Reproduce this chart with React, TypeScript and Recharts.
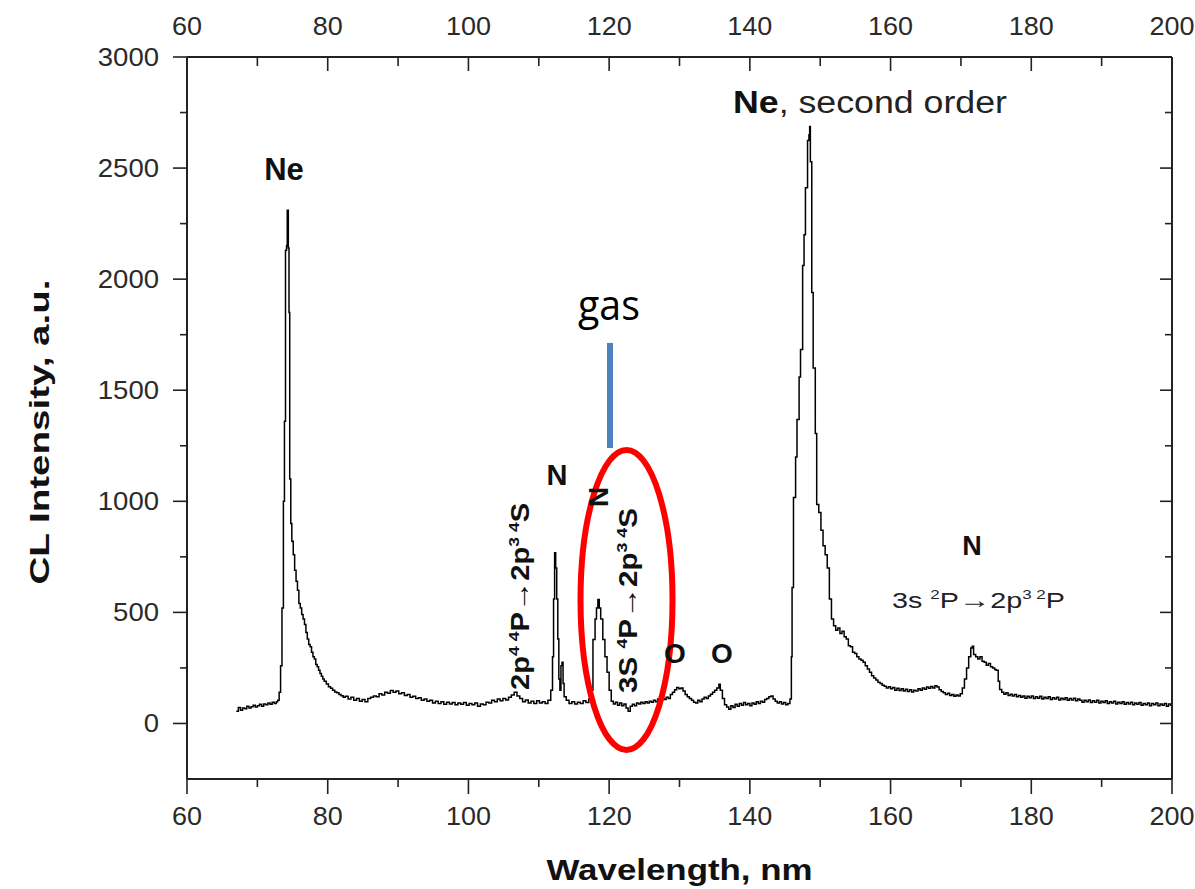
import React from 'react';
import { LineChart, Line, XAxis, YAxis, ReferenceDot, ReferenceLine } from 'recharts';

// [wavelength nm, CL intensity a.u.]
const baselineStart: [number, number][] = [
  [67.0, 55], [67.3, 72], [67.6, 60], [67.9, 70], [68.2, 66], [68.5, 78], [68.8, 70], [69.1, 75],
  [69.4, 82], [69.7, 74], [70.0, 80], [70.3, 86], [70.6, 78], [70.9, 88], [71.2, 84], [71.5, 92],
  [71.8, 86], [72.1, 95], [72.4, 90], [72.7, 98],
];

const neonPeak: [number, number][] = [
  [72.9, 105], [73.1, 140], [73.3, 260], [73.5, 520], [73.7, 1000], [73.85, 1360], [74.0, 2130],
  [74.15, 2150], [74.25, 2310], [74.4, 2140], [74.5, 1850], [74.6, 1100], [74.75, 900], [74.9, 820],
  [75.1, 760], [75.3, 690], [75.5, 640], [75.7, 600], [75.9, 540], [76.1, 520], [76.3, 490],
  [76.5, 470], [76.7, 445], [76.9, 410], [77.1, 380], [77.3, 355], [77.5, 345], [77.7, 320],
  [77.9, 300], [78.1, 290], [78.3, 265], [78.5, 255], [78.7, 240], [78.9, 225], [79.1, 212],
  [79.3, 200], [79.5, 190], [79.8, 178], [80.1, 165], [80.4, 158], [80.7, 150], [81.0, 142],
  [81.3, 138], [81.6, 130], [81.9, 125], [82.2, 118],
];

const midBaseline: [number, number][] = [
  [82.5, 122], [82.9, 110], [83.3, 118], [83.7, 104], [84.1, 112], [84.5, 100], [84.9, 108],
  [85.3, 98], [85.7, 112], [86.1, 118], [86.5, 124], [86.9, 120], [87.3, 134], [87.7, 128],
  [88.1, 140], [88.5, 136], [88.9, 148], [89.3, 140], [89.7, 146], [90.1, 134], [90.5, 138],
  [90.9, 126], [91.3, 130], [91.7, 118], [92.1, 122], [92.5, 112], [92.9, 116], [93.3, 104],
  [93.7, 110], [94.1, 100], [94.5, 104], [94.9, 92], [95.3, 100], [95.7, 90], [96.1, 98],
  [96.5, 86], [96.9, 96], [97.3, 88], [97.7, 94], [98.1, 84], [98.5, 92], [98.9, 86], [99.3, 94],
  [99.7, 82], [100.1, 90], [100.5, 84], [100.9, 92], [101.3, 78], [101.7, 88], [102.1, 84],
  [102.5, 96], [102.9, 92], [103.3, 104], [103.7, 98], [104.1, 110], [104.5, 102], [104.9, 112],
  [105.3, 106], [105.7, 118], [106.1, 128], [106.5, 140], [106.9, 124], [107.3, 112], [107.7, 98],
  [108.1, 106], [108.5, 92], [108.9, 100], [109.3, 90], [109.7, 102], [110.1, 92], [110.5, 98],
  [110.9, 90], [111.3, 104],
];

const nitrogenPeaks: [number, number][] = [
  [111.7, 150], [111.95, 300], [112.1, 560], [112.25, 769], [112.4, 700], [112.55, 560],
  [112.7, 380], [112.85, 200], [113.0, 150], [113.15, 260], [113.3, 275], [113.45, 180],
  [113.6, 120], [113.9, 104], [114.3, 90], [114.7, 98], [115.1, 88], [115.5, 96], [115.9, 90],
  [116.3, 102], [116.7, 94], [117.1, 110], [117.4, 150], [117.7, 378], [118.0, 470], [118.2, 520],
  [118.4, 558], [118.6, 520], [118.8, 470], [119.1, 378], [119.4, 300], [119.7, 230], [120.0, 150],
  [120.3, 100], [120.6, 88], [120.9, 96], [121.2, 82], [121.5, 92], [121.8, 80], [122.1, 88],
  [122.4, 70], [122.7, 55], [123.0, 78],
];

const oxygenRegion: [number, number][] = [
  [123.3, 86], [123.6, 80], [123.9, 92], [124.2, 88], [124.5, 96], [124.8, 90], [125.1, 98],
  [125.4, 92], [125.7, 100], [126.0, 96], [126.3, 104], [126.6, 98], [126.9, 110], [127.2, 104],
  [127.5, 112], [127.8, 108], [128.1, 118], [128.4, 112], [128.7, 130], [129.0, 140], [129.3, 152],
  [129.6, 162], [129.9, 156], [130.2, 160], [130.5, 146], [130.8, 130], [131.1, 120], [131.4, 112],
  [131.7, 104], [132.0, 96], [132.3, 92], [132.6, 104], [132.9, 98], [133.2, 110], [133.5, 118],
  [133.8, 112], [134.1, 124], [134.4, 132], [134.7, 140], [135.0, 150], [135.3, 160], [135.6, 176],
  [135.8, 150], [136.1, 112], [136.4, 84], [136.7, 74], [137.0, 64], [137.3, 80], [137.6, 72],
  [137.9, 86], [138.2, 78], [138.5, 90], [138.8, 82], [139.1, 94], [139.4, 84], [139.7, 90],
  [140.0, 80], [140.3, 92], [140.6, 86], [140.9, 98], [141.2, 90], [141.5, 100], [141.8, 96],
  [142.1, 108], [142.4, 112], [142.7, 120], [143.0, 124], [143.3, 110], [143.6, 100], [143.9, 92],
  [144.2, 98], [144.5, 88], [144.8, 94], [145.1, 84], [145.4, 90], [145.7, 110],
];

const neonSecondOrder: [number, number][] = [
  [145.9, 300], [146.0, 612], [146.2, 1017], [146.5, 1200], [146.7, 1368], [147.0, 1560],
  [147.2, 1683], [147.5, 2061], [147.7, 2200], [147.9, 2412], [148.2, 2624], [148.4, 2650],
  [148.5, 2687], [148.6, 2529], [148.8, 1940], [149.0, 1600], [149.3, 1305], [149.5, 986],
  [149.8, 950], [150.1, 870], [150.4, 800], [150.7, 760], [151.0, 700], [151.3, 560], [151.6, 470],
  [151.9, 440], [152.2, 420], [152.5, 430], [152.8, 405], [153.1, 415], [153.4, 390], [153.7, 380],
  [154.0, 350], [154.3, 345], [154.6, 320], [154.9, 315], [155.2, 300], [155.5, 290], [155.8, 285],
  [156.1, 275], [156.4, 260], [156.7, 245], [157.0, 230], [157.3, 215], [157.6, 205], [157.9, 196],
  [158.2, 185], [158.5, 180], [158.8, 172], [159.1, 168], [159.4, 160], [159.7, 165],
];

const nitrogenTail: [number, number][] = [
  [160.0, 156], [160.3, 162], [160.6, 150], [160.9, 158], [161.2, 148], [161.5, 156], [161.8, 146],
  [162.1, 154], [162.4, 144], [162.7, 152], [163.0, 142], [163.3, 150], [163.6, 146], [163.9, 156],
  [164.2, 150], [164.5, 160], [164.8, 154], [165.1, 164], [165.4, 158], [165.7, 166], [166.0, 160],
  [166.3, 170], [166.6, 164], [166.9, 152], [167.2, 144], [167.5, 138], [167.8, 130], [168.1, 136],
  [168.4, 126], [168.7, 130], [169.0, 122], [169.3, 128], [169.6, 124], [169.9, 134], [170.2, 160],
  [170.5, 200], [170.8, 250], [171.1, 300], [171.4, 340], [171.6, 347], [171.8, 310], [172.1, 300],
  [172.4, 290], [172.7, 300], [173.0, 280], [173.3, 275], [173.6, 262], [173.9, 270], [174.2, 255],
  [174.5, 250], [174.8, 243], [175.0, 240], [175.3, 190], [175.5, 153], [175.8, 140], [176.1, 132],
  [176.4, 138], [176.7, 126], [177.0, 132], [177.3, 124], [177.6, 130], [177.9, 120], [178.2, 126],
  [178.5, 118], [178.8, 124], [179.1, 114], [179.4, 122], [179.7, 116], [180.0, 124], [180.3, 112],
  [180.6, 120], [180.9, 114], [181.2, 122], [181.5, 110], [181.8, 118], [182.1, 112], [182.4, 120],
  [182.7, 108], [183.0, 116], [183.3, 110], [183.6, 118], [183.9, 106], [184.2, 114], [184.5, 108],
  [184.8, 116], [185.1, 104], [185.4, 112], [185.7, 106], [186.0, 114], [186.3, 102], [186.6, 110],
  [186.9, 104], [187.2, 96], [187.5, 104], [187.8, 98], [188.1, 106], [188.4, 94], [188.7, 102],
  [189.0, 96], [189.3, 104], [189.6, 92], [189.9, 100], [190.2, 94], [190.5, 102], [190.8, 90],
  [191.1, 98], [191.4, 92], [191.7, 100], [192.0, 88], [192.3, 96], [192.6, 90], [192.9, 98],
  [193.2, 86], [193.5, 94], [193.8, 88], [194.1, 96], [194.4, 84], [194.7, 92], [195.0, 86],
  [195.3, 94], [195.6, 82], [195.9, 90], [196.2, 84], [196.5, 92], [196.8, 80], [197.1, 90],
  [197.4, 84], [197.7, 92], [198.0, 80], [198.3, 88], [198.6, 82], [198.9, 90], [199.2, 78],
  [199.5, 88], [199.8, 82], [200.0, 86],
];

const xTicks = [60, 70, 80, 90, 100, 110, 120, 130, 140, 150, 160, 170, 180, 190, 200];
const yTicks = [0, 250, 500, 750, 1000, 1250, 1500, 1750, 2000, 2250, 2500, 2750, 3000];

const spectrum = [
  ...baselineStart, ...neonPeak, ...midBaseline, ...nitrogenPeaks,
  ...oxygenRegion, ...neonSecondOrder, ...nitrogenTail,
];
const data = spectrum.map(([wl, cl]) => ({ wl, cl }));

const FONT = 'Liberation Sans, Arial, Helvetica, sans-serif';
const AXIS = '#222';
const TXT = '#2a2a2a';

const BottomTick = (p: any) => {
  const { x, y, payload } = p;
  const v = payload.value;
  const major = v % 20 === 0;
  return (
    <g>
      <line x1={x} y1={y} x2={x} y2={y + (major ? 15 : 8)} stroke={AXIS} strokeWidth={1.6} />
      {major && (
        <text x={x} y={y + 46} textAnchor="middle" fontSize={25} fontFamily={FONT} fill={TXT}
          textLength={String(v).length * 15} lengthAdjust="spacingAndGlyphs">{v}</text>
      )}
    </g>
  );
};

const TopTick = (p: any) => {
  const { x, y, payload } = p;
  const v = payload.value;
  const major = v % 20 === 0;
  return (
    <g>
      <line x1={x} y1={y} x2={x} y2={y + (major ? 14 : 9)} stroke={AXIS} strokeWidth={1.6} />
      {major && (
        <text x={x} y={y - 22} textAnchor="middle" fontSize={25} fontFamily={FONT} fill={TXT}
          textLength={String(v).length * 15} lengthAdjust="spacingAndGlyphs">{v}</text>
      )}
    </g>
  );
};

const LeftTick = (p: any) => {
  const { x, y, payload } = p;
  const v = payload.value;
  const major = v % 500 === 0;
  return (
    <g>
      <line x1={x - (major ? 14 : 7)} y1={y} x2={x} y2={y} stroke={AXIS} strokeWidth={1.6} />
      {major && (
        <text x={x - 28} y={y + 9} textAnchor="end" fontSize={25} fontFamily={FONT} fill={TXT}
          textLength={String(v).length * 15.3} lengthAdjust="spacingAndGlyphs">{v}</text>
      )}
    </g>
  );
};

const RightTick = (p: any) => {
  const { x, y, payload } = p;
  const v = payload.value;
  const major = v % 500 === 0;
  return <line x1={x - (major ? 12 : 7)} y1={y} x2={x} y2={y} stroke={AXIS} strokeWidth={1.6} />;
};

const XTitle = (props: any) => {
  const vb = props.viewBox || { x: 187, y: 779, width: 985, height: 110 };
  return (
    <text x={vb.x + vb.width / 2} y={vb.y + 101} textAnchor="middle" fontSize={29} fontWeight="bold"
      fontFamily={FONT} fill="#111" textLength={266} lengthAdjust="spacingAndGlyphs">
      Wavelength, nm
    </text>
  );
};

const YTitle = () => {
  const cx = 49;
  const cy = 432;
  return (
    <text transform={`translate(${cx},${cy}) rotate(-90)`} x={0} y={0} textAnchor="middle" fontSize={28}
      fontWeight="bold" fontFamily={FONT} fill="#111" textLength={305} lengthAdjust="spacingAndGlyphs">
      CL Intensity, a.u.
    </text>
  );
};

const label = (content: (cx: number, cy: number) => React.ReactElement) => (p: any) =>
  content(p.cx, p.cy);

export default function App() {
  return (
    <div style={{ position: 'absolute', left: 0, top: 0, background: '#fff' }}>
      <LineChart width={1195} height={889} data={data} margin={{ top: 0, right: 0, bottom: 0, left: 0 }}>
        <XAxis xAxisId="bottom" dataKey="wl" type="number" domain={[60, 200]} ticks={xTicks} interval={0}
          orientation="bottom" height={110} tickSize={0} tickMargin={0} tickLine={false}
          axisLine={{ stroke: AXIS, strokeWidth: 2 }} tick={<BottomTick />} allowDataOverflow
          label={<XTitle />} />
        <XAxis xAxisId="top" dataKey="wl" type="number" domain={[60, 200]} ticks={xTicks} interval={0}
          orientation="top" height={57} tickSize={0} tickMargin={0} tickLine={false}
          axisLine={{ stroke: AXIS, strokeWidth: 2 }} tick={<TopTick />} allowDataOverflow />
        <YAxis yAxisId="left" type="number" domain={[-250, 3000]} ticks={yTicks} interval={0}
          orientation="left" width={187} tickSize={0} tickMargin={0} tickLine={false}
          axisLine={{ stroke: AXIS, strokeWidth: 2 }} tick={<LeftTick />} allowDataOverflow
          label={<YTitle />} />
        <YAxis yAxisId="right" type="number" domain={[-250, 3000]} ticks={yTicks} interval={0}
          orientation="right" width={23} tickSize={0} tickMargin={0} tickLine={false}
          axisLine={{ stroke: AXIS, strokeWidth: 2 }} tick={<RightTick />} allowDataOverflow />
        <Line xAxisId="top" yAxisId="right" dataKey="cl" stroke="none" dot={false}
          isAnimationActive={false} activeDot={false} />
        <Line xAxisId="bottom" yAxisId="left" dataKey="cl" type="stepAfter" stroke="#000" strokeWidth={1.5}
          dot={false} activeDot={false} isAnimationActive={false} />

        <ReferenceLine xAxisId="bottom" yAxisId="left" segment={[{ x: 120.12, y: 1713 }, { x: 120.12, y: 1240 }]}
          stroke="#4F81BD" strokeWidth={6} ifOverflow="visible" />

        <ReferenceDot xAxisId="bottom" yAxisId="left" x={122.47} y={556} r={0} ifOverflow="visible"
          shape={label((cx, cy) => (
            <ellipse cx={cx} cy={cy} rx={46} ry={150} fill="none" stroke="#FF0000" strokeWidth={6} />
          ))} />

        <ReferenceDot xAxisId="bottom" yAxisId="left" x={73.79} y={2447} r={0} ifOverflow="visible"
          shape={label((cx, cy) => (
            <text x={cx} y={cy} textAnchor="middle" fontSize={31} fontWeight="bold" fontFamily={FONT} fill="#111">Ne</text>
          ))} />

        <ReferenceDot xAxisId="bottom" yAxisId="left" x={137.6} y={2748} r={0} ifOverflow="visible"
          shape={label((cx, cy) => (
            <text x={cx} y={cy} fontSize={31} fontFamily={FONT} fill="#222" textLength={274} lengthAdjust="spacingAndGlyphs">
              <tspan fontWeight="bold" fill="#111">Ne</tspan>, second order
            </text>
          ))} />

        <ReferenceDot xAxisId="bottom" yAxisId="left" x={119.98} y={1816} r={0} ifOverflow="visible"
          shape={label((cx, cy) => (
            <text x={cx} y={cy} textAnchor="middle" fontSize={42} fontFamily="Open Sans, Lato, sans-serif" fill="#000"
              textLength={62} lengthAdjust="spacingAndGlyphs">gas</text>
          ))} />

        <ReferenceDot xAxisId="bottom" yAxisId="left" x={112.59} y={1074} r={0} ifOverflow="visible"
          shape={label((cx, cy) => (
            <text x={cx} y={cy} textAnchor="middle" fontSize={29} fontWeight="bold" fontFamily={FONT} fill="#111">N</text>
          ))} />

        <ReferenceDot xAxisId="bottom" yAxisId="left" x={118.42} y={1020} r={0} ifOverflow="visible"
          shape={label((cx, cy) => (
            <text transform={`translate(${cx},${cy}) rotate(-90)`} x={0} y={0} textAnchor="middle"
              dominantBaseline="central" fontSize={28} fontWeight="bold" fontFamily={FONT} fill="#111">N</text>
          ))} />

        <ReferenceDot xAxisId="bottom" yAxisId="left" x={108.61} y={151} r={0} ifOverflow="visible"
          shape={label((cx, cy) => (
            <text transform={`translate(${cx},${cy}) rotate(-90)`} x={0} y={0} fontSize={25} fontWeight="bold"
              fontFamily={FONT} fill="#111" textLength={187} lengthAdjust="spacingAndGlyphs">
              2p<tspan dy={-10} fontSize={15}>4 4</tspan><tspan dy={10}>P</tspan><tspan fontSize={27}>→</tspan>2p<tspan dy={-10} fontSize={15}>3 4</tspan><tspan dy={10}>S</tspan>
            </text>
          ))} />

        <ReferenceDot xAxisId="bottom" yAxisId="left" x={123.96} y={137} r={0} ifOverflow="visible"
          shape={label((cx, cy) => (
            <text transform={`translate(${cx},${cy}) rotate(-90)`} x={0} y={0} fontSize={25} fontWeight="bold"
              fontFamily={FONT} fill="#111" textLength={185} lengthAdjust="spacingAndGlyphs">
              3S <tspan dy={-10} fontSize={15}>4</tspan><tspan dy={10}>P</tspan><tspan fontSize={27}>→</tspan>2p<tspan dy={-10} fontSize={15}>3 4</tspan><tspan dy={10}>S</tspan>
            </text>
          ))} />

        <ReferenceDot xAxisId="bottom" yAxisId="left" x={129.36} y={272} r={0} ifOverflow="visible"
          shape={label((cx, cy) => (
            <text x={cx} y={cy} textAnchor="middle" fontSize={28} fontWeight="bold" fontFamily={FONT} fill="#111">O</text>
          ))} />
        <ReferenceDot xAxisId="bottom" yAxisId="left" x={136.04} y={272} r={0} ifOverflow="visible"
          shape={label((cx, cy) => (
            <text x={cx} y={cy} textAnchor="middle" fontSize={28} fontWeight="bold" fontFamily={FONT} fill="#111">O</text>
          ))} />

        <ReferenceDot xAxisId="bottom" yAxisId="left" x={171.57} y={758} r={0} ifOverflow="visible"
          shape={label((cx, cy) => (
            <text x={cx} y={cy} textAnchor="middle" fontSize={27} fontWeight="bold" fontFamily={FONT} fill="#111">N</text>
          ))} />

        <ReferenceDot xAxisId="bottom" yAxisId="left" x={160.2} y={520} r={0} ifOverflow="visible"
          shape={label((cx, cy) => (
            <text x={cx} y={cy} fontSize={22} fontFamily={FONT} fill="#222" textLength={173} lengthAdjust="spacingAndGlyphs">
              3s <tspan dy={-9} fontSize={13}>2</tspan><tspan dy={9}>P</tspan><tspan fontWeight="bold" fontSize={24}>→</tspan>2p<tspan dy={-9} fontSize={13}>3 2</tspan><tspan dy={9}>P</tspan>
            </text>
          ))} />
      </LineChart>
    </div>
  );
}
